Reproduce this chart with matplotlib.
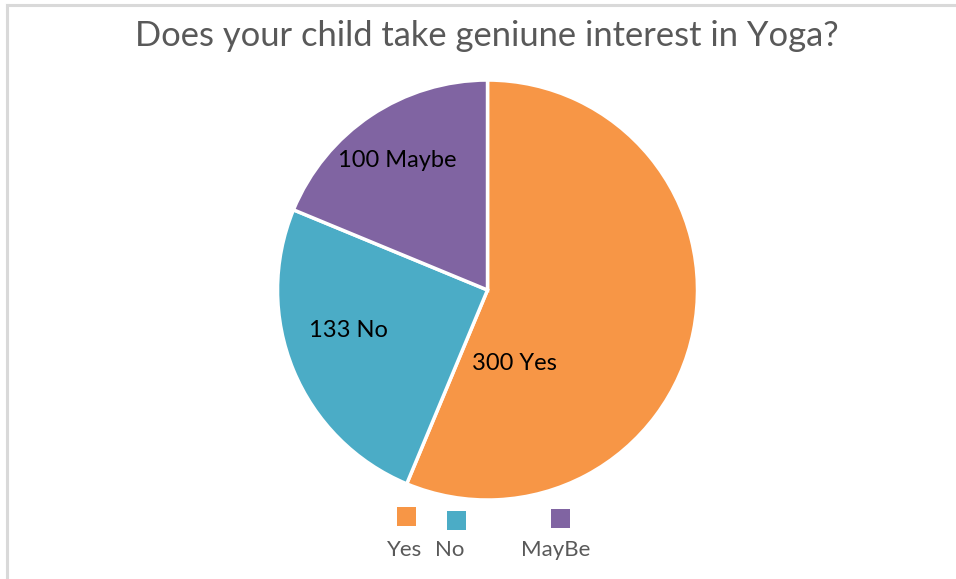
import matplotlib.pyplot as plt
from matplotlib.patches import Rectangle
from matplotlib.lines import Line2D

# survey answers
answers = ["Yes", "No", "Maybe"]
counts = [300, 133, 100]
legend_names = ["Yes", "No", "MayBe"]
colors = ["#F79646", "#4BACC6", "#8064A2"]

# where each slice label sits, in units of the pie radius
label_pos = [(0.126, -0.348), (-0.662, -0.195), (-0.431, 0.619)]

plt.rcParams['font.family'] = ['Lato', 'DejaVu Sans']

fig = plt.figure(figsize=(9.56, 5.79), dpi=100)
fig.patch.set_facecolor("white")

# light frame on the left and top edges
fig.add_artist(Line2D([0.0068, 0.0068], [0, 0.991], color="#D9D9D9", lw=2.2))
fig.add_artist(Line2D([0.0068, 1.0], [0.991, 0.991], color="#D9D9D9", lw=2.2))

ax = fig.add_axes([0.2903, 0.1364, 0.4393, 0.7254])
labels = ["%d %s" % (c, a) for c, a in zip(counts, answers)]
wedges, texts = ax.pie(counts, colors=colors, startangle=90, counterclock=False,
                       labels=labels, labeldistance=0.72,
                       wedgeprops=dict(edgecolor="white", linewidth=2.5),
                       textprops=dict(fontsize=17, color="black"))
for t, pos in zip(texts, label_pos):
    t.set_position(pos)
    t.set_ha("center")
    t.set_va("center")
ax.set_xlim(-1, 1)
ax.set_ylim(-1, 1)
ax.set_aspect("equal")
ax.axis("off")

fig.text(0.5095, 0.938, "Does your child take geniune interest in Yoga?",
         ha="center", va="center", fontsize=24.8, color="#595959")

# legend: colour squares above their names
sq_x = [397, 447, 551]
sq_y = [507, 511, 509]
txt_x = [405, 450, 556]
for name, col, sx, sy, tx in zip(legend_names, colors, sq_x, sq_y, txt_x):
    fig.add_artist(Rectangle((sx / 956, 1 - (sy + 19) / 579), 19 / 956, 19 / 579,
                             facecolor=col, edgecolor="none"))
    fig.text(tx / 956, 1 - 550 / 579, name, ha="center", va="center",
             fontsize=16, color="#595959")

plt.savefig("out.png", dpi=100)
